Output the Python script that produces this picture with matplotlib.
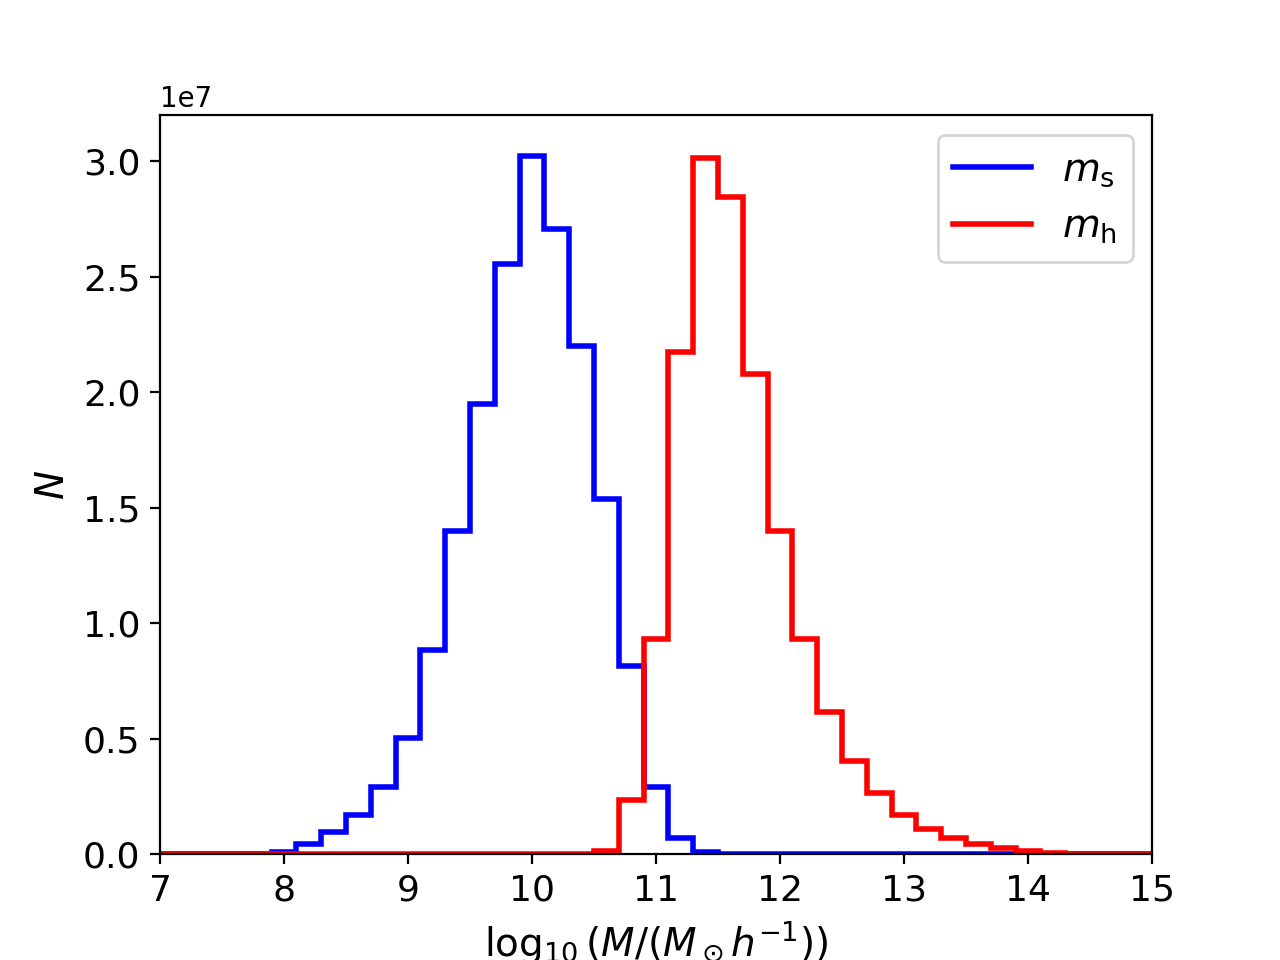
import matplotlib
matplotlib.use('Agg')
import matplotlib.pyplot as plt
import numpy as np

# bin edges (width 0.2 dex), centres at 7.0, 7.2, ..., 15.0
edges = np.round(np.arange(6.9, 15.11, 0.2), 2)

# counts per bin, in units of 1e7 (stellar mass)
ms_lo = 7.9
ms_counts = [0.01, 0.043, 0.095, 0.169, 0.29, 0.506, 0.883, 1.398, 1.948,
             2.558, 3.022, 2.706, 2.203, 1.537, 0.814, 0.29, 0.069, 0.01, 0.003]

# halo mass
mh_lo = 10.5
mh_counts = [0.013, 0.234, 0.931, 2.173, 3.013, 2.848, 2.078, 1.398, 0.931,
             0.615, 0.403, 0.264, 0.169, 0.108, 0.069, 0.043, 0.026, 0.013,
             0.005, 0.002]


def fill(lo, counts):
    h = np.zeros(len(edges) - 1)
    i0 = int(np.argmin(np.abs(edges - lo)))
    h[i0:i0 + len(counts)] = np.array(counts) * 1e7
    return h


h_s = fill(ms_lo, ms_counts)
h_h = fill(mh_lo, mh_counts)

fig, ax = plt.subplots(figsize=(6.4, 4.8), dpi=200)
ax.stairs(h_s, edges, color='blue', lw=2, label=r'$m_{\rm s}$')
ax.stairs(h_h, edges, color='red', lw=2, label=r'$m_{\rm h}$')

ax.set_xlim(7, 15)
ax.set_ylim(0, 3.2e7)
ax.tick_params(labelsize=13)
ax.yaxis.get_offset_text().set_fontsize(10)
ax.set_xlabel(r'$\log_{10}(M/(M_\odot h^{-1}))$', fontsize=14)
ax.set_ylabel(r'$N$', fontsize=14)
ax.legend(fontsize=14)

fig.savefig('out.png', dpi=200)
